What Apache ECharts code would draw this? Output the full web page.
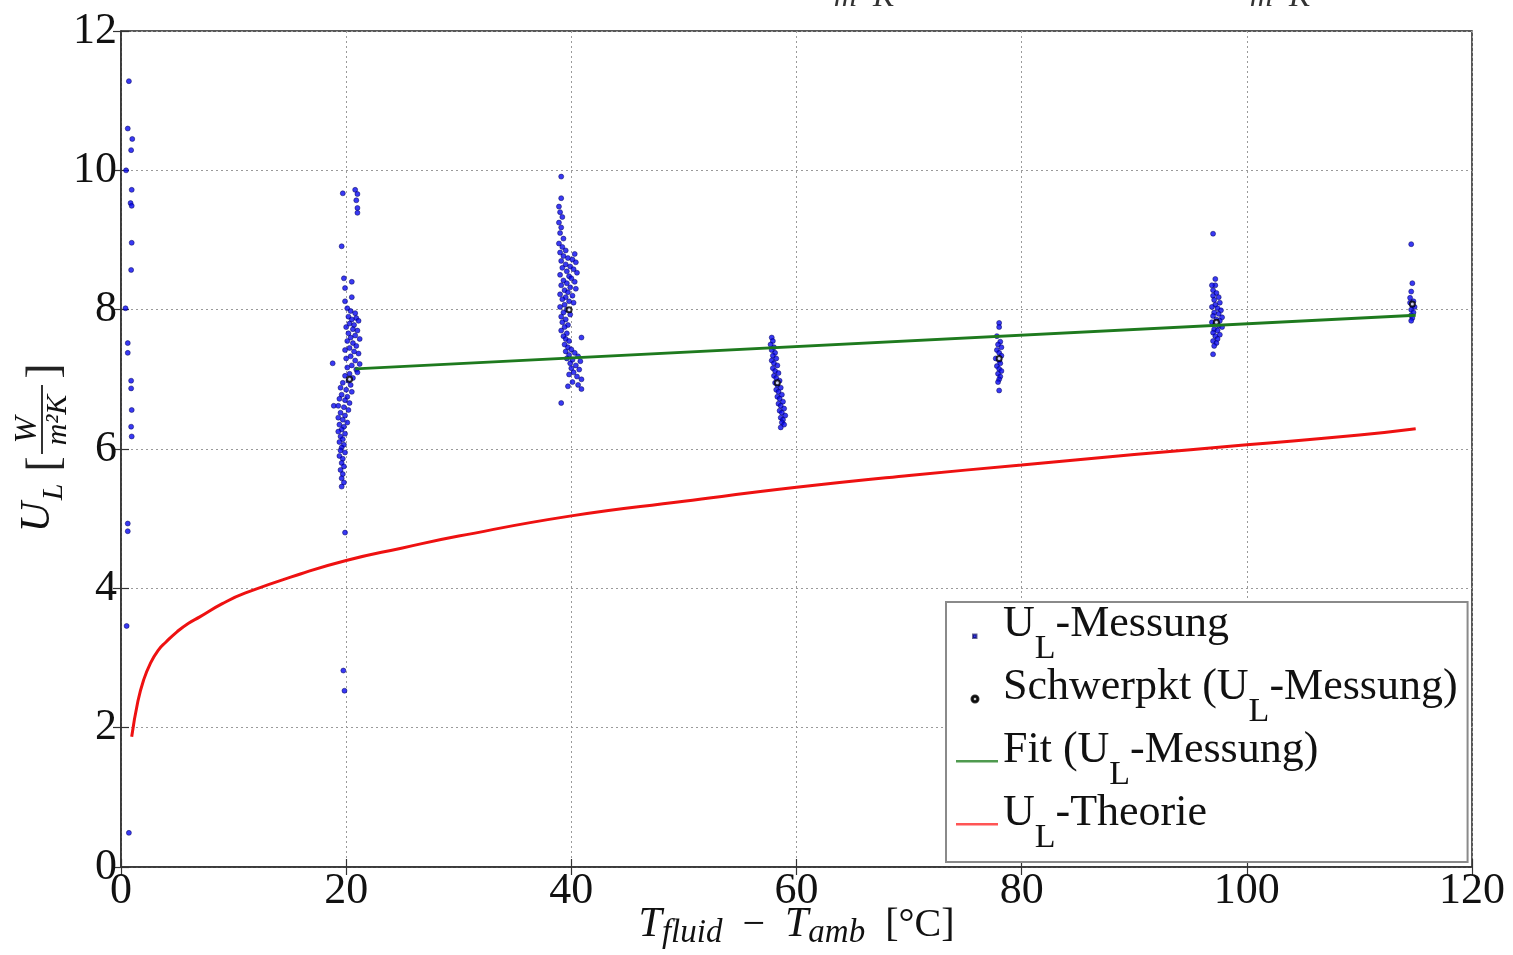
<!DOCTYPE html>
<html><head><meta charset="utf-8">
<script src="https://cdn.jsdelivr.net/npm/echarts@6/dist/echarts.min.js"></script>
<style>html,body{margin:0;padding:0;background:#fff;overflow:hidden}#c{width:1513px;height:955px}</style>
</head><body><div id="c"></div>
<script>
// ---------- data ----------
const seriesNames = ['U_L-Messung', 'Schwerpkt (U_L-Messung)', 'Fit (U_L-Messung)', 'U_L-Theorie'];
const xTickValues = [0, 20, 40, 60, 80, 100, 120];
const yTickValues = [0, 2, 4, 6, 8, 10, 12];

const measNear0 = [[0.7,11.28],[0.6,10.6],[1.0,10.45],[0.9,10.29],[0.45,10.0],[0.95,9.72],[0.85,9.53],[0.95,9.49],[0.95,8.96],[0.9,8.57],[0.4,8.02],[0.6,7.52],[0.6,7.38],[0.9,6.98],[0.9,6.87],[0.95,6.56],[0.9,6.32],[0.95,6.18],[0.6,4.93],[0.6,4.82],[0.5,3.46],[0.7,0.49]];
const meas20 = [[20.8,9.72],[21.0,9.66],[20.9,9.57],[21.0,9.46],[21.0,9.39],[19.7,9.67],[19.6,8.91],[19.8,8.45],[20.5,8.40],[19.9,8.31],[20.5,8.18],[19.9,8.12],
 [20.1,8.02],[20.4,7.98],[20.8,7.95],[20.2,7.9],[20.9,7.88],[20.5,7.86],[21.1,7.84],[20.3,7.8],[20.7,7.78],[20.0,7.75],[20.6,7.72],[21.0,7.7],[20.2,7.66],[20.8,7.63],[20.4,7.6],[21.2,7.58],[20.1,7.55],[20.6,7.52],[20.9,7.48],[20.3,7.45],[19.9,7.42],[20.7,7.4],[21.1,7.37],[20.4,7.33],[20.0,7.3],[20.8,7.27],[21.2,7.22],[20.5,7.2],[20.1,7.17],[20.9,7.14],[21.0,7.1],[20.3,7.08],[19.9,7.05],[20.6,7.02],[18.8,7.23],[18.9,6.62],
 [20.2,6.98],[19.7,6.95],[20.4,6.92],[19.5,6.88],[20.0,6.85],[20.5,6.82],[19.6,6.78],[20.1,6.75],[19.4,6.72],[19.9,6.7],[20.3,6.66],[19.3,6.62],[19.8,6.6],[20.2,6.56],[19.5,6.52],[19.9,6.48],[19.3,6.45],[19.7,6.42],[20.1,6.38],[19.4,6.35],[19.8,6.32],[19.6,6.28],[19.3,6.25],[19.9,6.22],[19.5,6.18],[19.7,6.14],[19.4,6.1],[19.8,6.06],[19.6,6.02],[19.5,5.98],[19.9,5.95],[19.4,5.9],[19.7,5.86],[19.6,5.8],[19.8,5.75],[19.5,5.7],[19.7,5.64],[19.6,5.58],[19.8,5.52],[19.6,5.46],[19.9,4.8],[19.75,2.82],[19.85,2.53]];
const meas40 = [[39.1,9.91],[39.1,9.6],[38.9,9.48],[39.0,9.4],[39.2,9.33],[38.9,9.25],[39.1,9.18],[39.0,9.1],[39.3,9.02],[38.9,8.95],[39.2,8.9],[39.5,8.85],[39.0,8.82],[40.3,8.8],[39.3,8.77],[39.7,8.74],[40.1,8.72],[39.1,8.7],[40.4,8.68],[39.5,8.65],[39.9,8.62],[39.2,8.6],[40.2,8.58],[39.6,8.55],[40.5,8.53],[39.0,8.5],[39.8,8.48],[40.0,8.45],[39.3,8.42],[40.3,8.4],[39.6,8.38],[39.1,8.35],[39.9,8.32],[40.4,8.3],[39.4,8.28],[39.7,8.25],[39.0,8.22],[40.1,8.2],[39.5,8.18],[39.2,8.15],[39.8,8.12],[40.2,8.1],[39.4,8.07],[39.0,8.04],[39.6,8.0],[39.3,7.96],[39.9,7.93],[39.1,7.9],[39.5,7.86],[39.2,7.82],[39.7,7.78],[39.4,7.75],[39.1,7.7],[39.6,7.66],[39.3,7.62],[39.5,7.58],[39.8,7.55],[40.9,7.6],[39.4,7.5],[39.7,7.46],[40.0,7.43],[39.5,7.4],[40.3,7.38],[39.8,7.35],[40.6,7.33],[39.6,7.3],[40.1,7.28],[40.8,7.26],[39.9,7.23],[40.4,7.2],[40.0,7.16],[40.7,7.14],[40.2,7.1],[39.8,7.07],[40.5,7.04],[40.9,7.0],[40.1,6.96],[40.6,6.92],[39.7,6.9],[40.9,6.86],[39.1,6.66]];
const meas58 = [[57.8,7.6],[57.9,7.55],[57.7,7.5],[58.0,7.46],[57.8,7.42],[58.1,7.38],[57.9,7.34],[58.2,7.3],[57.8,7.27],[58.0,7.23],[58.3,7.2],[57.9,7.16],[58.1,7.12],[58.4,7.09],[58.0,7.05],[58.2,7.02],[58.5,6.98],[58.1,6.95],[58.3,6.92],[58.6,6.88],[58.2,6.85],[58.4,6.82],[58.7,6.78],[58.3,6.75],[58.5,6.72],[58.8,6.68],[58.4,6.65],[58.6,6.62],[58.9,6.58],[58.5,6.55],[58.7,6.52],[59.0,6.48],[58.6,6.45],[58.8,6.42],[58.7,6.38],[58.9,6.35],[58.6,6.31]];
const meas78 = [[78.0,7.81],[78.0,7.75],[77.8,7.62],[78.1,7.54],[77.9,7.5],[78.2,7.46],[77.8,7.42],[78.0,7.38],[78.2,7.34],[77.7,7.3],[78.0,7.27],[78.1,7.23],[77.8,7.19],[78.0,7.15],[78.2,7.12],[77.9,7.08],[78.1,7.04],[78.0,7.0],[77.9,6.96],[78.0,6.84]];
const meas97 = [[97.0,9.09],[97.2,8.44],[97.2,8.35],[96.9,8.35],[97.0,8.28],[97.3,8.24],[97.0,8.2],[97.5,8.18],[97.1,8.14],[97.6,8.1],[97.2,8.07],[96.9,8.04],[97.4,8.02],[97.7,7.99],[97.1,7.96],[97.5,7.94],[97.0,7.91],[97.8,7.89],[97.3,7.86],[97.6,7.84],[96.9,7.82],[97.2,7.8],[97.5,7.77],[97.8,7.75],[97.1,7.72],[97.4,7.7],[97.0,7.67],[97.6,7.64],[97.2,7.62],[97.4,7.58],[97.0,7.55],[97.3,7.52],[97.1,7.48],[97.0,7.36]];
const meas115 = [[114.6,8.94],[114.7,8.38],[114.6,8.26],[114.5,8.17],[114.8,8.12],[114.5,8.1],[114.7,8.06],[114.9,8.04],[114.6,8.0],[114.8,7.96],[114.6,7.92],[114.7,7.88],[114.6,7.84]];

const centroidPoints = [[20.3,7.0],[39.8,8.0],[58.3,6.95],[78.0,7.3],[97.3,7.82],[114.7,8.08]];
const fitX = [20.8, 115];
const fitY = [7.15, 7.92];
const theoryX = [0.95, 1.5, 2, 2.6, 3.3, 4, 5, 6, 7, 9, 11, 16, 20, 25, 30, 40, 50, 60, 70, 80, 90, 100, 110, 115];
const theoryY = [1.87, 2.38, 2.68, 2.92, 3.11, 3.23, 3.38, 3.50, 3.59, 3.78, 3.93, 4.21, 4.40, 4.58, 4.75, 5.04, 5.25, 5.45, 5.62, 5.77, 5.92, 6.06, 6.20, 6.29];

// ---------- chart ----------
const SERIF = '"Liberation Serif", "Times New Roman", serif';
const measuredPoints = [].concat(measNear0, meas20, meas40, meas58, meas78, meas97, meas115);
const fitData = fitX.map((x, i) => [x, fitY[i]]);
const theoryData = theoryX.map((x, i) => [x, theoryY[i]]);

const iconDot = 'path://M0,0 M42,0 M0,28 M17,14.5 L20.5,14.5 L20.5,18 L17,18 Z';
const iconRing = 'path://M0,0 M42,0 M0,28 M15.5,16 A3.5,3.5 0 1,1 22.5,16 A3.5,3.5 0 1,1 15.5,16 Z M17,16 A2,2 0 1,0 21,16 A2,2 0 1,0 17,16 Z';
const iconLine = 'path://M0,0 M0,28 M0,14 L42,14 L42,16.5 L0,16.5 Z';

const chart = echarts.init(document.getElementById('c'), null, {renderer: 'canvas'});
const gridLine = {show: true, lineStyle: {color: '#9a9a9a', type: [2, 3], width: 1}};
const axisLine = {show: true, lineStyle: {color: '#333', width: 1.5}};
const tickStyle = {show: true, inside: true, length: 8, lineStyle: {color: '#333', width: 1.2}};
const labelStyle = {fontFamily: SERIF, fontSize: 44, color: '#111'};

chart.setOption({
  animation: false,
  backgroundColor: '#fff',
  grid: {left: 121, right: 41, top: 31, bottom: 88, outerBoundsMode: 'none', containLabel: false,
         show: true, borderColor: '#222', borderWidth: 1.5, backgroundColor: 'transparent'},
  xAxis: [{
    type: 'value', min: xTickValues[0], max: xTickValues[xTickValues.length - 1], interval: 20,
    axisLine, axisTick: tickStyle, splitLine: gridLine,
    axisLabel: Object.assign({margin: 2}, labelStyle),
    name: '{T|T}{s|fluid}{n|  −  }{T|T}{s|amb}{n|  [°C]}',
    nameLocation: 'middle', nameGap: 38, nameMoveOverlap: false,
    nameTextStyle: {
      fontFamily: SERIF, fontSize: 40, color: '#111',
      rich: {
        T: {fontFamily: SERIF, fontSize: 42, fontStyle: 'italic', color: '#111', height: 40, padding: [0, 0, 3, 0]},
        s: {fontFamily: SERIF, fontSize: 33, fontStyle: 'italic', color: '#111', height: 30, padding: [13, 0, 0, 0]},
        n: {fontFamily: SERIF, fontSize: 40, color: '#111', height: 40, padding: [0, 0, 3, 0]}
      }
    }
  }, {
    type: 'value', position: 'top', min: 0, max: 120, interval: 20,
    axisLine: {show: false}, axisTick: tickStyle, axisLabel: {show: false}, splitLine: {show: false}
  }],
  yAxis: [{
    type: 'value', min: yTickValues[0], max: yTickValues[yTickValues.length - 1], interval: 2,
    axisLine, axisTick: tickStyle, splitLine: gridLine,
    axisLabel: Object.assign({margin: 4}, labelStyle)
  }, {
    type: 'value', position: 'right', min: 0, max: 12, interval: 2,
    axisLine: {show: false}, axisTick: tickStyle, axisLabel: {show: false}, splitLine: {show: false}
  }],
  legend: {
    left: 946, top: 602, orient: 'vertical',
    padding: [0, 10, 7, 9], itemGap: -1, itemWidth: 42, itemHeight: 28,
    backgroundColor: '#fff', borderColor: '#8a8a8a', borderWidth: 2, borderRadius: 0,
    selectedMode: false,
    data: [
      {name: seriesNames[0], icon: iconDot},
      {name: seriesNames[1], icon: iconRing},
      {name: seriesNames[2], icon: iconLine},
      {name: seriesNames[3], icon: iconLine}
    ],
    formatter: n => '{m|' + n.replace(/_L/g, '}{s|L}{m|') + '}',
    textStyle: {
      fontFamily: SERIF, fontSize: 44, color: '#111',
      rich: {
        m: {fontFamily: SERIF, fontSize: 44, color: '#111', height: 44, padding: [0, 0, 20, 0]},
        s: {fontFamily: SERIF, fontSize: 34, color: '#111', height: 34, padding: [30, 0, 0, 0]}
      }
    }
  },
  series: [
    {name: seriesNames[0], type: 'scatter', data: measuredPoints, symbol: 'circle', symbolSize: 5,
     color: '#0000ff', itemStyle: {color: '#0808f0', borderColor: 'rgba(0,0,80,0.75)', borderWidth: 0.8}, z: 3},
    {name: seriesNames[1], type: 'scatter', data: centroidPoints, symbol: 'emptyCircle', symbolSize: 5,
     color: '#000', itemStyle: {color: '#000', borderColor: '#000', borderWidth: 1.2}, z: 4},
    {name: seriesNames[2], type: 'line', data: fitData, showSymbol: false, symbol: 'none',
     color: '#1f8a1f', lineStyle: {color: '#1e7a1e', width: 2.8}, itemStyle: {color: '#4f9a4f'}, z: 5},
    {name: seriesNames[3], type: 'line', data: theoryData, showSymbol: false, symbol: 'none', smooth: true,
     color: '#ff2020', lineStyle: {color: '#ee1111', width: 3}, itemStyle: {color: '#ff5555'}, z: 5}
  ],
  graphic: [
    {type: 'text', x: 38, y: 517, rotation: Math.PI / 2, style: {text: 'U', fontFamily: SERIF, fontStyle: 'italic', fontSize: 42, fill: '#111', align: 'center', verticalAlign: 'middle'}},
    {type: 'text', x: 54, y: 492, rotation: Math.PI / 2, style: {text: 'L', fontFamily: SERIF, fontStyle: 'italic', fontSize: 30, fill: '#111', align: 'center', verticalAlign: 'middle'}},
    {type: 'text', x: 46, y: 464, rotation: Math.PI / 2, style: {text: '[', fontFamily: SERIF, fontSize: 46, fill: '#222', align: 'center', verticalAlign: 'middle'}},
    {type: 'text', x: 28, y: 430, rotation: Math.PI / 2, style: {text: 'W', fontFamily: SERIF, fontStyle: 'italic', fontSize: 32, fill: '#111', align: 'center', verticalAlign: 'middle'}},
    {type: 'line', shape: {x1: 42, y1: 385, x2: 42, y2: 454}, style: {stroke: '#333', lineWidth: 2}},
    {type: 'text', x: 58, y: 420, rotation: Math.PI / 2, style: {text: 'm²K', fontFamily: SERIF, fontStyle: 'italic', fontSize: 30, fill: '#111', align: 'center', verticalAlign: 'middle'}},
    {type: 'text', x: 46, y: 371, rotation: Math.PI / 2, style: {text: ']', fontFamily: SERIF, fontSize: 46, fill: '#222', align: 'center', verticalAlign: 'middle'}},
    {type: 'text', x: 864, y: 14, style: {text: '· m  K ·', fontFamily: SERIF, fontStyle: 'italic', fontSize: 32, fill: '#333', align: 'center', verticalAlign: 'bottom'}},
    {type: 'text', x: 1280, y: 14, style: {text: '· m  K ·', fontFamily: SERIF, fontStyle: 'italic', fontSize: 32, fill: '#333', align: 'center', verticalAlign: 'bottom'}}
  ]
});
</script>
</body></html>
